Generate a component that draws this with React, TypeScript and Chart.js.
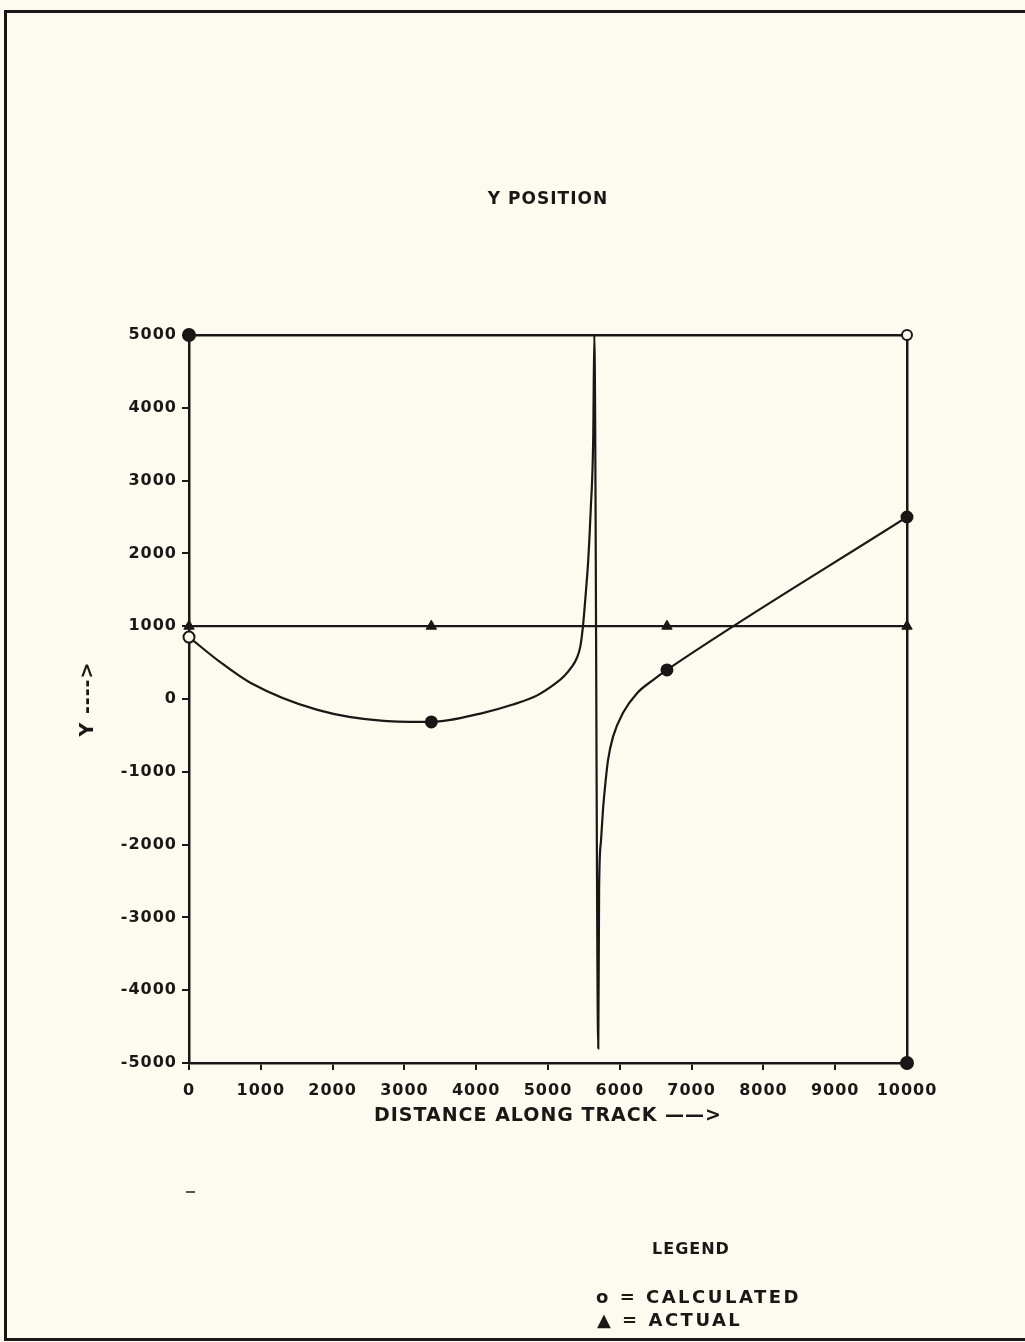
import { useEffect, useRef } from "react";
import { Chart, registerables } from "chart.js";

Chart.register(...registerables);

// ---- axis ranges ----
const X_MIN = 0;
const X_MAX = 10000;
const Y_MIN = -5000;
const Y_MAX = 5000;
const TICK_STEP = 1000;

// ---- calculated curve ----
const calcCurveX = [0, 430, 860, 1790, 2710, 3375, 4100, 4500, 4850, 5100, 5230, 5330, 5400, 5450, 5487, 5530, 5560, 5595, 5630, 5645, 5700, 5712, 5738, 5766, 5794, 5836, 5905, 6045, 6240, 6462, 6657, 10000];
const calcCurveY = [850, 510, 220, -150, -300, -315, -190, -80, 50, 210, 320, 440, 560, 720, 1000, 1500, 1900, 2600, 3600, 5000, -4800, -2600, -1950, -1520, -1210, -840, -520, -190, 80, 260, 400, 2500];

// ---- sample points (markers) ----
const sampleX = [0, 3375, 6657, 10000];
const calculatedY = [850, -315, 400, 2500];
const actualY = [1000, 1000, 1000, 1000];

// ---- corner marks of the plot frame ----
const cornerX = [0, 10000, 10000];
const cornerY = [5000, 5000, -5000];

const INK = "#1c1616";
const PAPER = "#fcfbef";
const FAMILY = "'DejaVu Sans', 'Verdana', sans-serif";

const pts = (xs: number[], ys: number[]) => xs.map((x, i) => ({ x, y: ys[i] }));

const spacingPlugin = {
  id: "letterSpacing",
  beforeUpdate(chart: any) {
    chart.ctx.letterSpacing = "1px";
  },
  beforeDraw(chart: any) {
    chart.ctx.letterSpacing = "1px";
  },
};

export default function App() {
  const ref = useRef<HTMLCanvasElement | null>(null);

  useEffect(() => {
    if (!ref.current) return;
    const tickFont = { family: FAMILY, size: 16, weight: "bold" as const };
    const chart = new Chart(ref.current, {
      type: "line",
      data: {
        datasets: [
          {
            label: "Calculated samples",
            data: pts(sampleX, calculatedY),
            showLine: false,
            pointStyle: "circle",
            pointRadius: 5.5,
            pointBorderWidth: 2,
            pointBorderColor: INK,
            pointBackgroundColor: sampleX.map((_, i) => (i === 0 ? PAPER : INK)),
            clip: false as any,
          },
          {
            label: "Actual samples",
            data: pts(sampleX, actualY),
            showLine: false,
            pointStyle: "triangle",
            pointRadius: 6,
            pointBorderWidth: 1,
            pointBorderColor: INK,
            pointBackgroundColor: INK,
            clip: false as any,
          },
          {
            label: "Frame corners",
            data: pts(cornerX, cornerY),
            showLine: false,
            pointStyle: "circle",
            pointRadius: cornerX.map((_, i) => (i === 1 ? 5 : 6)),
            pointBorderWidth: 2,
            pointBorderColor: INK,
            pointBackgroundColor: cornerX.map((_, i) => (i === 1 ? PAPER : INK)),
            clip: false as any,
          },
          {
            label: "Calculated",
            data: pts(calcCurveX, calcCurveY),
            borderColor: INK,
            borderWidth: 2.2,
            pointRadius: 0,
            cubicInterpolationMode: "monotone",
            fill: false,
          },
          {
            label: "Actual",
            data: pts(sampleX, actualY),
            borderColor: INK,
            borderWidth: 2.2,
            pointRadius: 0,
            fill: false,
          },
        ],
      },
      options: {
        responsive: false,
        animation: false,
        devicePixelRatio: 1,
        events: [],
        layout: { padding: { left: 0, right: 118, top: 0, bottom: 0 } },
        plugins: {
          legend: { display: false },
          tooltip: { enabled: false },
          title: {
            display: true,
            fullSize: false,
            text: "Y POSITION",
            color: INK,
            font: { family: FAMILY, size: 17, weight: "bold" },
            padding: { top: 189, bottom: 125.6 },
          },
        },
        scales: {
          x: {
            type: "linear",
            position: "bottom",
            min: X_MIN,
            max: X_MAX,
            ticks: {
              stepSize: TICK_STEP,
              color: INK,
              font: tickFont,
              padding: 11,
              maxRotation: 0,
              autoSkip: false,
              callback: (v: any) => String(v),
            },
            grid: { display: true, drawOnChartArea: false, drawTicks: true, tickLength: 7, color: INK, lineWidth: 2 },
            border: { display: true, color: INK, width: 2.5 },
            title: {
              display: true,
              text: "DISTANCE ALONG TRACK ——>",
              color: INK,
              font: { family: FAMILY, size: 19, weight: "bold" },
              padding: { top: 0, bottom: 215 },
            },
            afterFit: (s: any) => {
              s.height = 279;
            },
          },
          y: {
            type: "linear",
            position: "left",
            min: Y_MIN,
            max: Y_MAX,
            ticks: {
              stepSize: TICK_STEP,
              color: INK,
              font: tickFont,
              padding: 5,
              autoSkip: false,
              callback: (v: any) => String(v),
            },
            grid: { display: true, drawOnChartArea: false, drawTicks: true, tickLength: 7, color: INK, lineWidth: 2 },
            border: { display: true, color: INK, width: 2.5 },
            title: {
              display: true,
              text: "Y ---->",
              color: INK,
              font: { family: FAMILY, size: 19, weight: "bold" },
              padding: { top: 77, bottom: 0 },
            },
            afterFit: (s: any) => {
              s.width = 189;
            },
          },
          x2: {
            type: "linear",
            position: "top",
            min: X_MIN,
            max: X_MAX,
            ticks: { display: false },
            grid: { display: false, drawTicks: false },
            border: { display: true, color: INK, width: 2.5 },
            afterFit: (s: any) => {
              s.height = 0;
            },
          },
          y2: {
            type: "linear",
            position: "right",
            min: Y_MIN,
            max: Y_MAX,
            ticks: { display: false },
            grid: { display: false, drawTicks: false },
            border: { display: true, color: INK, width: 2.5 },
            afterFit: (s: any) => {
              s.width = 0;
            },
          },
        },
      } as any,
      plugins: [spacingPlugin],
    });
    return () => chart.destroy();
  }, []);

  const legendText: React.CSSProperties = {
    position: "absolute",
    fontFamily: FAMILY,
    fontWeight: "bold",
    color: INK,
    whiteSpace: "nowrap",
    lineHeight: "20px",
  };

  return (
    <div
      style={{
        position: "fixed",
        left: 0,
        top: 0,
        width: 1025,
        height: 1342,
        overflow: "hidden",
        background: PAPER,
      }}
    >
      <div
        style={{
          position: "absolute",
          left: 4,
          top: 10,
          width: 1060,
          height: 1331,
          border: `3px solid ${INK}`,
          boxSizing: "border-box",
        }}
      />
      <div style={{ position: "absolute", left: 186, top: 1191, width: 9, height: 2, background: "#555" }} />
      <canvas ref={ref} width={1025} height={1342} style={{ position: "absolute", left: 0, top: 0 }} />
      <div style={{ ...legendText, left: 652, top: 1239, fontSize: 16, letterSpacing: "1px" }}>LEGEND</div>
      <div style={{ ...legendText, left: 596, top: 1287, fontSize: 18, letterSpacing: "2.5px" }}>o = CALCULATED</div>
      <div style={{ ...legendText, left: 597, top: 1310, fontSize: 18, letterSpacing: "2.5px" }}>▲ = ACTUAL</div>
    </div>
  );
}
